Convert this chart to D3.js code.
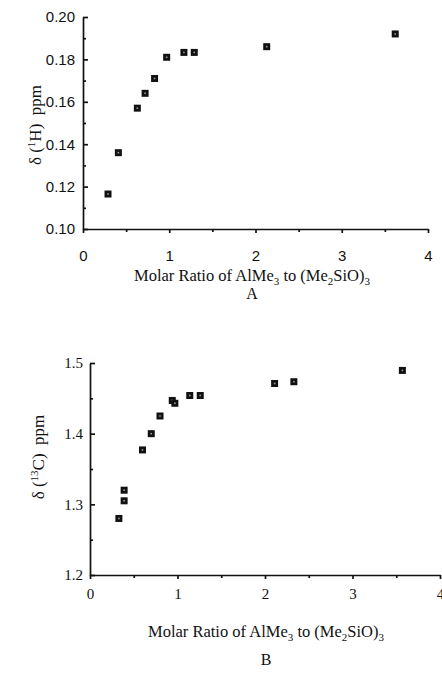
<!DOCTYPE html>
<html>
<head>
<meta charset="utf-8">
<script src="https://cdn.jsdelivr.net/npm/d3@7"></script>
<style>
  body { margin: 0; background: #fff; }
  svg { display: block; }
  .axis path, .axis line { stroke: #111; stroke-width: 1.7px; }
  .axis text { fill: #111; }
  .serif { font-family: "Liberation Serif", "DejaVu Serif", serif; }
  .sans { font-family: "Liberation Sans", Arial, sans-serif; }
</style>
</head>
<body>
<div id="chart"></div>
<script>
// Datos
let ratioA = [0.29, 0.41, 0.63, 0.72, 0.83, 0.97, 1.17, 1.29, 2.13, 3.62];
let shiftH = [0.1165, 0.136, 0.157, 0.164, 0.171, 0.181, 0.1833, 0.1833, 0.186, 0.192];

let ratioB = [0.33, 0.39, 0.39, 0.60, 0.70, 0.80, 0.94, 0.97, 1.14, 1.26, 2.11, 2.33, 3.57];
let shiftC = [1.280, 1.305, 1.320, 1.377, 1.400, 1.425, 1.447, 1.443, 1.454, 1.454, 1.471, 1.4735, 1.4895];

let xTicks = [0, 1, 2, 3, 4];
let xMinor = [0.5, 1.5, 2.5, 3.5];
let yTicksA = [0.10, 0.12, 0.14, 0.16, 0.18, 0.20];
let yMinorA = [0.11, 0.13, 0.15, 0.17, 0.19];
let yTicksB = [1.2, 1.3, 1.4, 1.5];
let yMinorB = [1.25, 1.35, 1.45];

let svg = d3.select('#chart').append('svg')
    .attr('width', 442)
    .attr('height', 679);

function drawPanel(opt) {
    let x = d3.scaleLinear().domain([0, 4]).range(opt.xr);
    let y = d3.scaleLinear().domain(opt.yd).range(opt.yr);
    let g = svg.append('g');

    //Eje X
    g.append('g').attr('class', 'axis')
        .attr('transform', 'translate(0,' + opt.yr[0] + ')')
        .call(d3.axisBottom(x).tickValues(xTicks).tickSizeInner(4).tickSizeOuter(0).tickPadding(opt.xPad).tickFormat(d3.format('d')))
        .call(function(s) {
            s.selectAll('text').attr('class', opt.xFont).style('font-size', '15px');
        });
    g.append('g').attr('class', 'axis')
        .attr('transform', 'translate(0,' + opt.yr[0] + ')')
        .call(d3.axisBottom(x).tickValues(xMinor).tickSizeInner(3).tickSizeOuter(0).tickFormat(''))
        .call(function(s) { s.select('.domain').remove(); });

    //Eje Y
    g.append('g').attr('class', 'axis')
        .attr('transform', 'translate(' + opt.xr[0] + ',0)')
        .call(d3.axisLeft(y).tickValues(opt.yTicks).tickSizeInner(-5).tickSizeOuter(0).tickPadding(opt.yPad).tickFormat(d3.format(opt.yFmt)))
        .call(function(s) {
            s.selectAll('text').attr('class', opt.yFont).style('font-size', '15px');
        });
    g.append('g').attr('class', 'axis')
        .attr('transform', 'translate(' + opt.xr[0] + ',0)')
        .call(d3.axisLeft(y).tickValues(opt.yMinor).tickSizeInner(-3).tickSizeOuter(0).tickFormat(''))
        .call(function(s) { s.select('.domain').remove(); });

    //Puntos
    let pts = g.selectAll('.pt')
        .data(opt.xs.map(function(d, i) { return [d, opt.ys[i]]; }))
        .enter().append('g')
        .attr('transform', function(d) { return 'translate(' + x(d[0]) + ',' + y(d[1]) + ')'; });
    pts.append('rect')
        .attr('x', -3.5).attr('y', -3.5).attr('width', 7).attr('height', 7)
        .attr('fill', '#111');
    pts.append('rect')
        .attr('x', -0.8).attr('y', -0.8).attr('width', 1.6).attr('height', 1.6)
        .attr('fill', '#999');

    //Etiqueta eje Y
    let yl = g.append('text').attr('class', 'serif')
        .attr('transform', 'translate(' + opt.ylx + ',' + opt.yly + ') rotate(-90)')
        .attr('text-anchor', 'middle')
        .style('font-size', '17px').attr('fill', '#111')
        .style('white-space', 'pre');
    yl.append('tspan').text('δ (');
    yl.append('tspan').attr('dy', -6).style('font-size', '11px').text(opt.iso);
    yl.append('tspan').attr('dy', 6).text(opt.nuc + ')  ppm');

    //Título eje X
    let cx = opt.titleX;
    let t = g.append('text').attr('class', 'serif')
        .attr('x', cx).attr('y', opt.titleY)
        .attr('text-anchor', 'middle')
        .style('font-size', '16.5px').attr('fill', '#111');
    t.append('tspan').text('Molar Ratio of AlMe');
    t.append('tspan').attr('dy', 4).style('font-size', '11px').text('3');
    t.append('tspan').attr('dy', -4).text(' to (Me');
    t.append('tspan').attr('dy', 4).style('font-size', '11px').text('2');
    t.append('tspan').attr('dy', -4).text('SiO)');
    t.append('tspan').attr('dy', 4).style('font-size', '11px').text('3');

    g.append('text').attr('class', 'serif')
        .attr('x', cx).attr('y', opt.letterY)
        .attr('text-anchor', 'middle')
        .style('font-size', '16px').attr('fill', '#111')
        .text(opt.letter);
}

drawPanel({
    xr: [83, 428], yd: [0.10, 0.20], yr: [229, 17],
    xs: ratioA, ys: shiftH, yTicks: yTicksA, yMinor: yMinorA, yFmt: '.2f',
    xPad: 17, yPad: 8, xFont: 'sans', yFont: 'sans',
    iso: '1', nuc: 'H', ylx: 41, yly: 125,
    titleX: 252, titleY: 281, letter: 'A', letterY: 299
});

drawPanel({
    xr: [90, 440], yd: [1.2, 1.5], yr: [575, 363],
    xs: ratioB, ys: shiftC, yTicks: yTicksB, yMinor: yMinorB, yFmt: '.1f',
    xPad: 9, yPad: 7, xFont: 'serif', yFont: 'serif',
    iso: '13', nuc: 'C', ylx: 44, yly: 457,
    titleX: 266, titleY: 637, letter: 'B', letterY: 665
});
</script>
</body>
</html>
